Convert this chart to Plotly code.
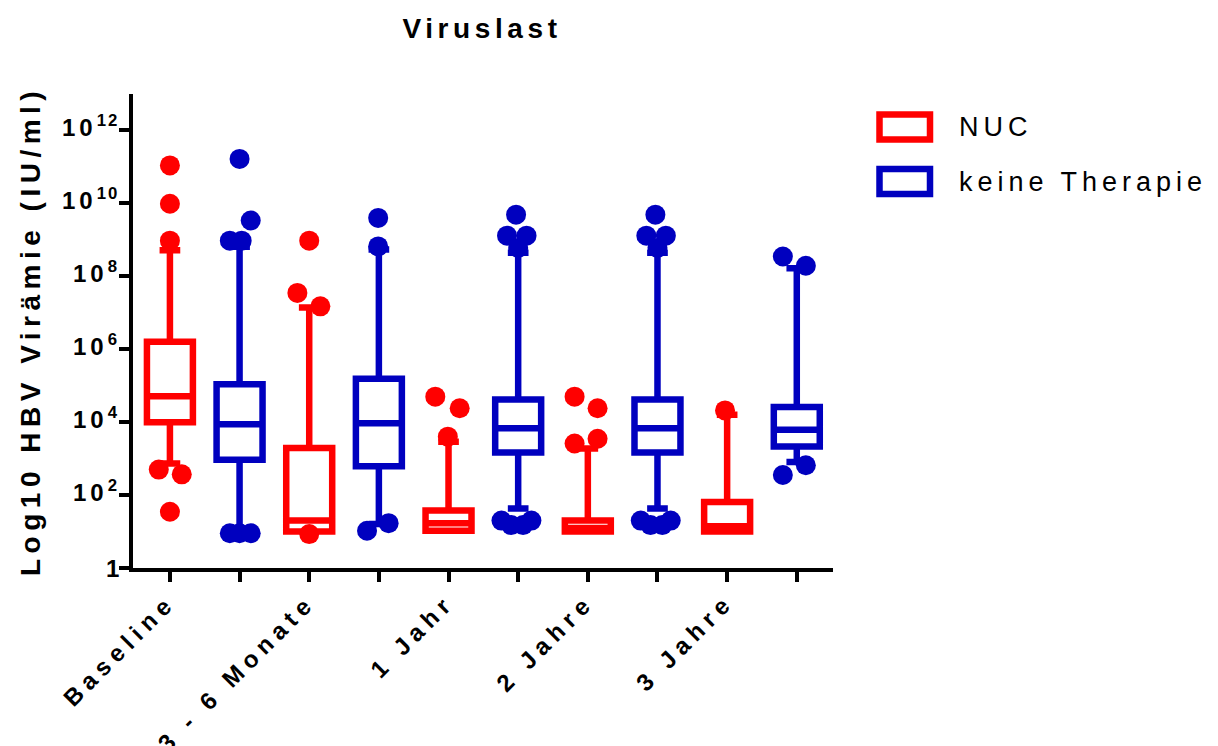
import plotly.graph_objects as go

# Zeitpunkte (je eine NUC- und eine "keine Therapie"-Box pro Zeitpunkt)
groups = ["Baseline", "3 - 6 Monate", "1 Jahr", "2 Jahre", "3 Jahre"]

# Box-Statistiken HBV-DNA (IU/ml) – NUC
nuc_q1 = [1.0e4, 10, 10.5, 10, 10]
nuc_median = [5.1e4, 20, 17, 12.6, 14]
nuc_q3 = [1.6e6, 1950, 38, 20, 65]
nuc_low = [740, 10, 10.5, 10, 10]
nuc_high = [5.2e8, 1.4e7, 2900, 1900, 1.6e4]

# Box-Statistiken HBV-DNA (IU/ml) – keine Therapie
kt_q1 = [930, 620, 1480, 1480, 2140]
kt_median = [8700, 9300, 6800, 6800, 6200]
kt_q3 = [1.1e5, 1.55e5, 4.2e4, 4.2e4, 2.6e4]
kt_low = [10, 16, 43, 43, 810]
kt_high = [6.5e8, 5.4e8, 4.4e8, 4.4e8, 1.66e8]

# Ausreißer: Gruppenindex und Wert (IU/ml)
nuc_out_group = [0, 0, 0, 0, 0, 0, 1, 1, 1, 1, 2, 2, 2, 3, 3, 3, 3, 4]
nuc_out_value = [1.1e11, 9.8e9, 9.5e8, 500, 370, 35,
                 3.5e7, 1.5e7, 9.5e8, 8.5,
                 4000, 5.0e4, 2.4e4,
                 2600, 3500, 5.0e4, 2.4e4,
                 2.1e4]
kt_out_group = [0, 0, 0, 0, 0, 0, 0,
                1, 1, 1, 1,
                2, 2, 2, 2, 2, 2, 2, 2,
                3, 3, 3, 3, 3, 3, 3, 3,
                4, 4, 4, 4]
kt_out_value = [1.66e11, 3.4e9, 9.5e8, 9.5e8, 9, 9, 9,
                4.0e9, 6.6e8, 10.5, 17,
                4.9e9, 1.3e9, 1.3e9, 6.0e8, 20, 15, 15, 20,
                4.9e9, 1.3e9, 1.3e9, 6.0e8, 20, 15, 15, 20,
                3.5e8, 1.95e8, 355, 660]

# y-Achsenbeschriftung: Zehnerpotenzen
y_exponents = [0, 2, 4, 6, 8, 10, 12]

# horizontale Streuung der Ausreißerpunkte (in Einheiten des Box-Abstands)
nuc_jitter = [0, 0, 0, -0.16, 0.17, 0,
              -0.17, 0.16, 0, 0,
              -0.01, -0.19, 0.16,
              -0.19, 0.14, -0.19, 0.14,
              -0.03]
kt_jitter = [0, 0.16, -0.14, 0.03, -0.14, 0, 0.16,
             -0.01, -0.01, -0.17, 0.14,
             -0.03, -0.16, 0.12, 0, -0.24, -0.1, 0.07, 0.19,
             -0.03, -0.16, 0.12, 0, -0.24, -0.1, 0.07, 0.19,
             -0.2, 0.13, -0.2, 0.13]

RED = "#FF0000"
BLUE = "#0000BF"
FONT = "Liberation Sans, Arial, sans-serif"

nuc_pos = [2 * i for i in range(len(groups))]
kt_pos = [2 * i + 1 for i in range(len(groups))]


def spaced(text, px):
    return f'<span style="letter-spacing:{px}px">{text}</span>'


fig = go.Figure()

for pos, q1, med, q3, lo, hi, color in [
    (nuc_pos, nuc_q1, nuc_median, nuc_q3, nuc_low, nuc_high, RED),
    (kt_pos, kt_q1, kt_median, kt_q3, kt_low, kt_high, BLUE),
]:
    fig.add_trace(go.Box(
        x=pos, q1=q1, median=med, q3=q3, lowerfence=lo, upperfence=hi,
        width=0.66, whiskerwidth=0.45, boxpoints=False,
        line=dict(color=color, width=6.5), fillcolor="rgba(255,255,255,0)",
        showlegend=False, hoverinfo="skip",
    ))

for pos, grp, val, jit, color in [
    (nuc_pos, nuc_out_group, nuc_out_value, nuc_jitter, RED),
    (kt_pos, kt_out_group, kt_out_value, kt_jitter, BLUE),
]:
    fig.add_trace(go.Scatter(
        x=[pos[g] + j for g, j in zip(grp, jit)], y=val, mode="markers",
        marker=dict(color=color, size=20, line=dict(width=0)),
        showlegend=False, hoverinfo="skip",
    ))

W, L = 700.0, 474.0
BOLD = dict(family=FONT, color="black", weight="bold")

# Legende als Rechtecke mit Beschriftung
for color, label, ytop in [(RED, "NUC", 114.5), (BLUE, "keine Therapie", 169.0)]:
    fig.add_shape(type="rect", xref="paper", yref="paper",
                  x0=(879.5 - 133) / W, x1=(930 - 133) / W,
                  y0=(568 - ytop) / L, y1=(568 - ytop - 25) / L,
                  line=dict(color=color, width=6.5), fillcolor="white")
    fig.add_annotation(xref="paper", yref="paper", x=(957 - 133) / W,
                       y=(568 - ytop - 12.5) / L, xanchor="left", yanchor="middle",
                       text=spaced(label, 5), showarrow=False,
                       font=dict(family=FONT, size=27, color="black"))

# y-Achsentitel
fig.add_annotation(xref="paper", yref="paper", x=(30 - 133) / W, y=0.5,
                   xanchor="center", yanchor="middle", textangle=-90,
                   text=spaced("Log10 HBV Virämie (IU/ml)", 5.5), showarrow=False,
                   font=dict(size=28, **BOLD))

# Beschriftung der y-Achse (10^k)
for k in y_exponents:
    label = "1" if k == 0 else f'{spaced("10", 4)}<sup>{spaced(str(k), 2)}</sup>'
    fig.add_annotation(xref="paper", yref="y", x=(120 - 133) / W, y=k,
                       xanchor="right", yanchor="middle", showarrow=False,
                       yshift=0 if k == 0 else 4, borderpad=0,
                       text=label, font=dict(size=24, **BOLD))

# Beschriftung der Zeitpunkte, schräg unter den NUC-Boxen
for p, g in zip(nuc_pos, groups):
    fig.add_annotation(xref="x", yref="paper", x=p, y=(568 - 587) / L,
                       xanchor="right", yanchor="top", textangle=-45,
                       xshift=13, showarrow=False, borderpad=0,
                       text=spaced(g, 6), font=dict(size=24, **BOLD))

fig.update_layout(
    width=1218, height=746,
    margin=dict(l=133, r=385, t=94, b=178),
    paper_bgcolor="white", plot_bgcolor="white",
    title=dict(text=spaced("Viruslast", 4.6), x=(482 - 133) / W, xref="paper",
               xanchor="center", y=1 - 28 / 746, yref="container", yanchor="middle",
               font=dict(size=28, **BOLD)),
    font=dict(family=FONT, color="black"),
    xaxis=dict(range=[-0.53, 9.52], tickmode="array", tickvals=nuc_pos,
               showticklabels=False, showline=True, linewidth=4,
               linecolor="black", ticks="outside", ticklen=10, tickwidth=3.5,
               tickcolor="black", showgrid=False, zeroline=False,
               minor=dict(tickmode="array", tickvals=kt_pos, ticks="outside",
                          ticklen=10, tickwidth=3.5, tickcolor="black", showgrid=False)),
    yaxis=dict(type="log", range=[0, 13], tickmode="array",
               tickvals=[10 ** k for k in y_exponents], showticklabels=False,
               showline=True, linewidth=4, linecolor="black",
               ticks="outside", ticklen=10, tickwidth=3.5, tickcolor="black",
               showgrid=False, zeroline=False),
)

fig.write_html("out.html")
